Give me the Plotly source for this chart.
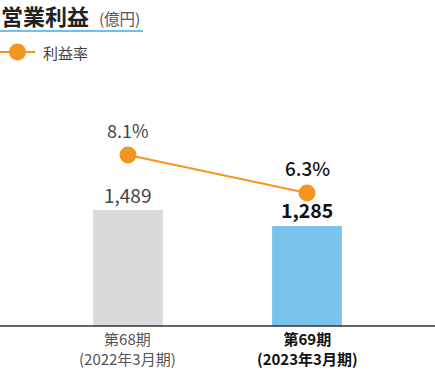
import plotly.graph_objects as go

categories = ["第68期", "第69期"]
periods = ["(2022年3月期)", "(2023年3月期)"]
profit = [1489, 1285]
margin = [8.1, 6.3]
profit_labels = ["1,489", "1,285"]
margin_labels = ["8.1%", "6.3%"]

FONT = "Noto Sans CJK JP"
ORANGE = "#f5951f"
W, H = 435, 370
T, B = 70, 44
PH = H - T - B

def py(p):
    return (H - B - p) / PH

def px(p):
    return p / W

xs = [0, 1]
fig = go.Figure()
fig.add_trace(go.Bar(x=xs, y=profit, width=0.39,
                     marker=dict(color=["#d9dadb", "#7ac3ed"], line=dict(width=0)),
                     hoverinfo="skip"))
fig.add_trace(go.Scatter(x=xs, y=margin, yaxis="y2", mode="lines+markers",
                         line=dict(color=ORANGE, width=2),
                         marker=dict(color=ORANGE, size=17), hoverinfo="skip"))

ann = []
for i in range(2):
    bold = i == 1
    ann.append(dict(x=xs[i], y=profit[i], xref="x", yref="y", yanchor="bottom",
                    yshift=0, showarrow=False,
                    text=("<b>%s</b>" % profit_labels[i]) if bold else profit_labels[i],
                    font=dict(family=FONT, size=19.5 if bold else 19,
                              color="#111" if bold else "#444")))
    ann.append(dict(x=xs[i], y=margin[i], xref="x", yref="y2", yanchor="bottom",
                    yshift=10, showarrow=False,
                    text=margin_labels[i],
                    font=dict(family=FONT, size=19 if bold else 18,
                              weight=500 if bold else 400,
                              color="#111" if bold else "#444")))
    lbl = categories[i] + "<br>" + periods[i]
    ann.append(dict(x=xs[i], y=py(370), xref="x", yref="paper", yanchor="bottom",
                    showarrow=False, borderpad=0,
                    text=("<b>%s</b>" % lbl) if bold else lbl,
                    font=dict(family=FONT, size=15, color="#111" if bold else "#555")))

ann.append(dict(x=0, y=py(15), xref="paper", yref="paper", xanchor="left",
                yanchor="middle", showarrow=False, xshift=-1,
                text="<span style='font-size:22px'><b>営業利益</b></span>&nbsp;&nbsp;"
                     "<span style='font-size:15.5px;color:#555'>(億円)</span>",
                font=dict(family=FONT, size=22, color="#222")))
ann.append(dict(x=px(41), y=py(52), xref="paper", yref="paper", xanchor="left",
                yanchor="middle", showarrow=False, text="利益率",
                font=dict(family=FONT, size=15, color="#444")))

shapes = [
    dict(type="line", xref="paper", yref="paper", x0=0, x1=px(143), y0=py(31), y1=py(31),
         line=dict(color="#6ec1ea", width=2)),
    dict(type="line", xref="paper", yref="paper", x0=0, x1=px(35), y0=py(52), y1=py(52),
         line=dict(color=ORANGE, width=2)),
    dict(type="circle", xref="paper", yref="paper", x0=px(9), x1=px(26),
         y0=py(60.5), y1=py(43.5), fillcolor=ORANGE, line=dict(width=0)),
    dict(type="line", xref="paper", yref="paper", x0=0, x1=1, y0=0, y1=0,
         line=dict(color="#333", width=1.5)),
]

fig.update_layout(
    width=W, height=H, margin=dict(l=0, r=0, t=T, b=B),
    paper_bgcolor="white", plot_bgcolor="white", showlegend=False,
    xaxis=dict(range=[-0.715, 1.715], showticklabels=False, showgrid=False,
               zeroline=False, fixedrange=True),
    yaxis=dict(range=[0, 3286], visible=False, showgrid=False, zeroline=False),
    yaxis2=dict(range=[0, 12.13], overlaying="y", visible=False, showgrid=False),
    annotations=ann, shapes=shapes,
)
fig.write_html("out.html", config={"displayModeBar": False},
               post_script="document.body.style.margin='0';document.body.style.overflow='hidden';")
